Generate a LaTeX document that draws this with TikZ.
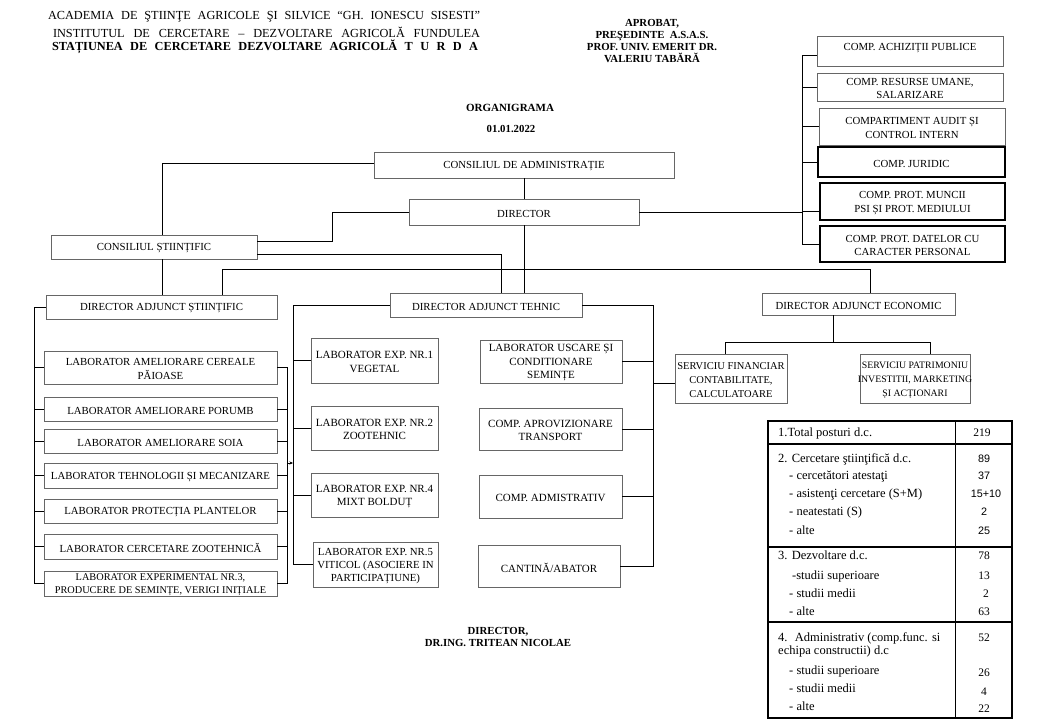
\documentclass[tikz,border=0pt]{standalone}
\usepackage{fontspec}
\setmainfont{Liberation Serif}
\newfontfamily\sansnum{Liberation Sans}
\usetikzlibrary{arrows.meta}
\tikzset{
  frame/.style={draw=black!60, line width=0.9pt, inner sep=0pt},
  btext/.style={inner sep=0pt, align=center, font=\fontsize{10.8}{13.5}\selectfont},
  dbox/.style={draw=black, line width=1.1pt},
  lab/.style={font=\fontsize{10.8}{13.5}\selectfont},
  tec/.style={font=\fontsize{11}{13.5}\selectfont},
  ln/.style={line width=0.9pt, draw=black},
  hdr/.style={inner sep=0pt, font=\fontsize{12.3}{14}\selectfont},
  bhdr/.style={inner sep=0pt, align=center, font=\bfseries\fontsize{10.8}{12}\selectfont},
  tt/.style={inner sep=0pt, anchor=base west, font=\fontsize{12.5}{14}\selectfont},
  tv/.style={inner sep=0pt, anchor=base, font=\fontsize{11.5}{13}\selectfont},
  tvs/.style={inner sep=0pt, anchor=base, font=\sansnum\fontsize{10.8}{13}\selectfont},
}
\newcommand{\tys}{-1.5pt}
\newcommand{\mkbox}[7][]{%
  \node[frame,minimum width={(#5)-(#3)},minimum height={(#6)-(#4)},#1] (#2) at ({(#3+#5)/2},{(#4+#6)/2}) {};
  \node[btext,#1,draw=none] (#2-t) at ([yshift=\tys]#2.center) {#7};}

\begin{document}
\begin{tikzpicture}[x=1pt,y=-1pt]
\useasboundingbox[fill=white] (0,0) rectangle (1040,720);

% ---------- headers ----------
\node[hdr] (h1) at (264,17) {\makebox[432pt][s]{ACADEMIA DE ŞTIINŢE AGRICOLE ŞI SILVICE “GH. IONESCU SISESTI”}};
\node[hdr] (h2) at (266.5,32) {\makebox[427pt][s]{INSTITUTUL DE CERCETARE – DEZVOLTARE AGRICOLĂ FUNDULEA}};
\node[hdr,font=\bfseries\fontsize{12.3}{14}\selectfont] (h3) at (265,47) {\makebox[426pt][s]{STAȚIUNEA DE CERCETARE DEZVOLTARE AGRICOLĂ T U R D A}};
\node[bhdr] (ap) at (652,41) {APROBAT,\\PREŞEDINTE~ A.S.A.S.\\PROF. UNIV. EMERIT DR.\\VALERIU TABĂRĂ};
\node[bhdr,font=\bfseries\fontsize{11}{13}\selectfont] (og) at (510,108) {ORGANIGRAMA};
\node[bhdr] (dt) at (511,129) {01.01.2022};
\node[bhdr,font=\bfseries\fontsize{10.8}{12.5}\selectfont] (sig) at (498,637) {DIRECTOR,\\DR.ING. TRITEAN NICOLAE};

% ---------- boxes ----------
\mkbox{ca}{374}{152}{674}{178}{CONSILIUL DE ADMINISTRAȚIE}
\mkbox{dir}{409}{199}{639}{225}{DIRECTOR}
\mkbox{cs}{51}{235}{257}{259}{CONSILIUL ȘTIINȚIFIC}
\mkbox{das}{46}{295}{277}{319}{DIRECTOR ADJUNCT ȘTIINȚIFIC}
\mkbox{dat}{390}{293}{582}{317}{DIRECTOR ADJUNCT TEHNIC}
\mkbox{dae}{762}{293}{955}{315}{DIRECTOR ADJUNCT ECONOMIC}
\mkbox[font=\fontsize{10.5}{14.2}\selectfont]{sf}{675}{354}{787}{403}{SERVICIU FINANCIAR\\CONTABILITATE,\\CALCULATOARE}
\mkbox[font=\fontsize{9.8}{14.2}\selectfont]{sp}{860}{354}{970}{403}{SERVICIU PATRIMONIU\\INVESTITII, MARKETING\\ȘI ACȚIONARI}

\renewcommand{\tys}{3pt}
\mkbox{r1}{817}{36}{1003}{66}{COMP. ACHIZIȚII PUBLICE}
\renewcommand{\tys}{-1.5pt}
\mkbox{r2}{817}{73}{1003}{101}{COMP. RESURSE UMANE,\\SALARIZARE}
\mkbox{r3}{819}{108}{1005}{145}{COMPARTIMENT AUDIT ȘI\\CONTROL INTERN}
\mkbox[dbox]{r4}{818}{147}{1005}{177}{COMP. JURIDIC}
\mkbox[dbox]{r5}{820}{183}{1005}{220}{COMP. PROT. MUNCII\\PSI ȘI PROT. MEDIULUI}
\mkbox[dbox]{r6}{820}{226}{1005}{262}{COMP. PROT. DATELOR CU\\CARACTER PERSONAL}

\mkbox[lab]{l1}{44}{351}{277}{384}{LABORATOR AMELIORARE CEREALE\\PĂIOASE}
\mkbox[lab]{l2}{44}{397}{277}{421}{LABORATOR AMELIORARE PORUMB}
\mkbox[lab]{l3}{44}{429}{277}{453}{LABORATOR AMELIORARE SOIA}
\mkbox[lab]{l4}{44}{463}{277}{488}{LABORATOR TEHNOLOGII ȘI MECANIZARE}
\mkbox[lab]{l5}{44}{499}{277}{523}{LABORATOR PROTECȚIA PLANTELOR}
\mkbox[lab]{l6}{44}{534}{277}{559}{LABORATOR CERCETARE ZOOTEHNICĂ}
\mkbox[font=\fontsize{10.3}{12.8}\selectfont]{l7}{44}{571}{277}{596}{LABORATOR EXPERIMENTAL NR.3,\\PRODUCERE DE SEMINȚE, VERIGI INIȚIALE}

\mkbox[tec]{te1}{311}{338}{438}{383}{LABORATOR EXP. NR.1\\VEGETAL}
\mkbox[tec]{te2}{311}{406}{438}{450}{LABORATOR EXP. NR.2\\ZOOTEHNIC}
\mkbox[tec]{te3}{311}{473}{438}{517}{LABORATOR EXP. NR.4\\MIXT BOLDUȚ}
\mkbox[tec,font=\fontsize{10.8}{12.8}\selectfont]{te4}{313}{542}{438}{587}{LABORATOR EXP. NR.5\\VITICOL (ASOCIERE IN\\PARTICIPAȚIUNE)}

\mkbox[tec]{tr1}{480}{340}{622}{383}{LABORATOR USCARE ȘI\\CONDITIONARE\\SEMINȚE}
\mkbox[tec]{tr2}{479}{408}{622}{450}{COMP. APROVIZIONARE\\TRANSPORT}
\mkbox[tec]{tr3}{479}{475}{622}{518}{COMP. ADMISTRATIV}
\mkbox[tec]{tr4}{478}{545}{620}{587}{CANTINĂ/ABATOR}

% ---------- helper coordinates ----------
\coordinate (rx) at (802,0);
\coordinate (lx) at (34,0);
\coordinate (bx) at (287,0);
\coordinate (tx) at (293,0);
\coordinate (ux) at (653,0);
\coordinate (ar) at (287,463);

% ---------- connectors ----------
\draw[ln] ([yshift=2pt]ca.west) -| ([xshift=8pt]cs.north);
\draw[ln] (ca.south) -- (ca.south |- dir.north);
\draw[ln] (dir.west) -- ++(-76,0) |- ([yshift=6pt]cs.east);
\draw[ln] (dir.east) -- (dir.east -| rx);
\draw[ln] ([yshift=-7pt]cs.east) -| ([xshift=15pt]dat.north);
\draw[ln] (dir.south) -- (dir.south |- dat.north);
\draw[ln] ([xshift=8pt]cs.south) -- ([xshift=8pt]cs.south |- das.north);
\draw[ln] ([xshift=60.5pt]das.north) -- ++(0,-25) -| ([xshift=11.5pt]dae.north);
\draw[ln] ([xshift=-25pt]dae.south) -- ++(0,27) coordinate (ej);
\draw[ln] ([xshift=-6pt]sf.north) |- (ej) -| ([xshift=15pt]sp.north);

% right column
\draw[ln] ([yshift=-4pt]r1.west) -- ([yshift=-4pt]r1.west -| rx) -- (r6.west -| rx) -- (r6.west);
\draw[ln] (r2.west -| rx) -- (r2.west);
\draw[ln] (r3.west -| rx) -- (r3.west);
\draw[ln] (r4.west -| rx) -- (r4.west);
\draw[ln] ([yshift=-9.5pt]r5.west -| rx) -- ([yshift=-9.5pt]r5.west);

% left column (scientific)
\draw[ln] (das.west) -- (das.west -| lx) |- (l7.west);
\foreach \n in {l1,l2,l3,l4,l5,l6} \draw[ln] (\n.west -| lx) -- (\n.west);
\draw[ln] (l1.east) -- (l1.east -| bx) -- (l7.east -| bx) -- (l7.east);
\foreach \n in {l2,l3,l4,l5,l6} \draw[ln] (\n.east) -- (\n.east -| bx);
\draw[line width=0.6pt,-{Stealth[length=3.5pt,width=3pt]}] (ar) -- (ar -| tx);

% technical
\draw[ln] (dat.west) -- (dat.west -| tx) |- (te4.west);
\foreach \n in {te1,te2,te3} \draw[ln] (\n.west -| tx) -- (\n.west);
\draw[ln] (dat.east) -- (dat.east -| ux) |- (tr4.east);
\foreach \n in {tr1,tr2,tr3} \draw[ln] (\n.east) -- (\n.east -| ux);
\draw[ln] ([yshift=-4.5pt]sf.west -| ux) -- ([yshift=-4.5pt]sf.west);

% ---------- table ----------
\draw[line width=0.9pt] (955,421) -- (955,718);
\draw[line width=1.3pt] (768,444) -- (1012,444);
\draw[line width=1.3pt] (768,547) -- (1012,547);
\draw[line width=1.3pt] (768,622) -- (1012,622);
\draw[line width=2pt] (768,421) rectangle (1012,718);

\node[tt] (t1) at (778,436) {1.Total posturi d.c.};
\node[tv] (v1) at (982,436) {219};

\node[tt] (t2) at (778,462) {2. Cercetare ştiinţifică d.c.};
\node[tt] (t2a) at (789,479) {- cercetători atestaţi};
\node[tt] (t2b) at (789,497) {- asistenţi cercetare (S+M)};
\node[tt] (t2c) at (789,515) {- neatestati (S)};
\node[tt] (t2d) at (789,534) {- alte};
\node[tvs] (v2) at (984,462) {89};
\node[tvs] (v2a) at (984,479) {37};
\node[tvs] (v2b) at (986,497) {15+10};
\node[tvs] (v2c) at (984,515) {2};
\node[tvs] (v2d) at (984,534) {25};

\node[tt] (t3) at (778,559) {3. Dezvoltare d.c.};
\node[tt] (t3a) at (792,579) {-studii superioare};
\node[tt] (t3b) at (789,597) {- studii medii};
\node[tt] (t3c) at (789,615) {- alte};
\node[tv] (v3) at (984,559) {78};
\node[tv] (v3a) at (984,579) {13};
\node[tv,anchor=base east] (v3b) at (989,597) {2};
\node[tv] (v3c) at (984,615) {63};

\node[tt] (t4) at (778,641) {4.~ Administrativ (comp.func. si};
\node[tt] (t4x) at (778,654) {echipa constructii) d.c};
\node[tt] (t4a) at (789,674) {- studii superioare};
\node[tt] (t4b) at (789,692) {- studii medii};
\node[tt] (t4c) at (789,710) {- alte};
\node[tv] (v4) at (984,641) {52};
\node[tv] (v4a) at (984,676) {26};
\node[tv] (v4b) at (984,695) {4};
\node[tv] (v4c) at (984,712) {22};
\end{tikzpicture}
\end{document}
